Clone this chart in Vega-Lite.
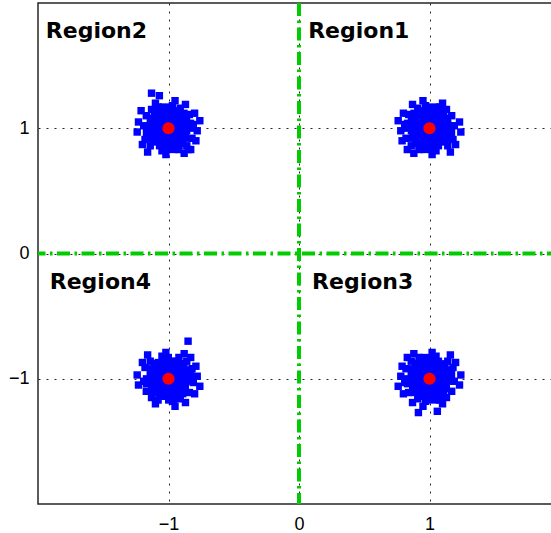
{
  "$schema": "https://vega.github.io/schema/vega-lite/v6.json",
  "width": 522,
  "height": 501,
  "autosize": {"type": "none"},
  "padding": {"left": 38, "top": 3, "right": 0, "bottom": 29},
  "background": "white",
  "config": {
    "view": {"stroke": "#262626", "strokeWidth": 1.5},
    "axis": {
      "labelFont": "Liberation Sans",
      "labelFontSize": 18,
      "labelColor": "#000000",
      "ticks": false,
      "domain": false,
      "grid": true,
      "gridColor": "#222222",
      "gridOpacity": 1,
      "gridWidth": 1,
      "gridDash": [2, 6],
      "title": null
    }
  },
  "datasets": {
    "core": [
      {"x": -1, "y": 1}, {"x": -0.94, "y": 1}, {"x": -1.06, "y": 1}, {"x": -1, "y": 1.06}, {"x": -1, "y": 0.94},
      {"x": -0.94, "y": 1.06}, {"x": -1.06, "y": 1.06}, {"x": -0.94, "y": 0.94}, {"x": -1.06, "y": 0.94},
      {"x": -0.88, "y": 1}, {"x": -1.12, "y": 1.01}, {"x": -0.99, "y": 1.12}, {"x": -1, "y": 0.88},
      {"x": -0.88, "y": 1.05}, {"x": -0.89, "y": 0.94}, {"x": -1.12, "y": 1.06}, {"x": -1.11, "y": 0.94},
      {"x": -0.95, "y": 1.12}, {"x": -1.06, "y": 1.11}, {"x": -0.94, "y": 0.88}, {"x": -1.05, "y": 0.88},
      {"x": -0.9, "y": 1.1}, {"x": -1.09, "y": 1.1}, {"x": -0.91, "y": 0.9}, {"x": -1.1, "y": 0.91},
      {"x": -0.85, "y": 1.02}, {"x": -1.15, "y": 0.98}, {"x": -0.98, "y": 0.85}, {"x": -1.02, "y": 1.15},

      {"x": 1, "y": 1}, {"x": 0.94, "y": 1}, {"x": 1.06, "y": 1}, {"x": 1, "y": 1.06}, {"x": 1, "y": 0.94},
      {"x": 0.94, "y": 1.06}, {"x": 1.06, "y": 1.06}, {"x": 0.94, "y": 0.94}, {"x": 1.06, "y": 0.94},
      {"x": 0.88, "y": 1}, {"x": 1.12, "y": 1.01}, {"x": 0.99, "y": 1.12}, {"x": 1, "y": 0.88},
      {"x": 0.88, "y": 1.05}, {"x": 0.89, "y": 0.94}, {"x": 1.12, "y": 1.06}, {"x": 1.11, "y": 0.94},
      {"x": 0.95, "y": 1.12}, {"x": 1.06, "y": 1.11}, {"x": 0.94, "y": 0.88}, {"x": 1.05, "y": 0.88},
      {"x": 0.9, "y": 1.1}, {"x": 1.09, "y": 1.1}, {"x": 0.91, "y": 0.9}, {"x": 1.1, "y": 0.91},
      {"x": 0.85, "y": 1.02}, {"x": 1.15, "y": 0.98}, {"x": 0.98, "y": 0.85}, {"x": 1.02, "y": 1.15},

      {"x": -1, "y": -1}, {"x": -0.94, "y": -1}, {"x": -1.06, "y": -1}, {"x": -1, "y": -0.94}, {"x": -1, "y": -1.06},
      {"x": -0.94, "y": -0.94}, {"x": -1.06, "y": -0.94}, {"x": -0.94, "y": -1.06}, {"x": -1.06, "y": -1.06},
      {"x": -0.88, "y": -1}, {"x": -1.12, "y": -0.99}, {"x": -0.99, "y": -0.88}, {"x": -1, "y": -1.12},
      {"x": -0.88, "y": -0.95}, {"x": -0.89, "y": -1.06}, {"x": -1.12, "y": -0.94}, {"x": -1.11, "y": -1.06},
      {"x": -0.95, "y": -0.88}, {"x": -1.06, "y": -0.89}, {"x": -0.94, "y": -1.12}, {"x": -1.05, "y": -1.12},
      {"x": -0.9, "y": -0.9}, {"x": -1.09, "y": -0.9}, {"x": -0.91, "y": -1.1}, {"x": -1.1, "y": -1.09},
      {"x": -0.85, "y": -0.98}, {"x": -1.15, "y": -1.02}, {"x": -0.98, "y": -1.15}, {"x": -1.02, "y": -0.85},

      {"x": 1, "y": -1}, {"x": 1.06, "y": -1}, {"x": 0.94, "y": -1}, {"x": 1, "y": -0.94}, {"x": 1, "y": -1.06},
      {"x": 1.06, "y": -0.94}, {"x": 0.94, "y": -0.94}, {"x": 1.06, "y": -1.06}, {"x": 0.94, "y": -1.06},
      {"x": 1.12, "y": -1}, {"x": 0.88, "y": -0.99}, {"x": 1.01, "y": -0.88}, {"x": 1, "y": -1.12},
      {"x": 1.12, "y": -0.95}, {"x": 1.11, "y": -1.06}, {"x": 0.88, "y": -0.94}, {"x": 0.89, "y": -1.06},
      {"x": 1.05, "y": -0.88}, {"x": 0.94, "y": -0.89}, {"x": 1.06, "y": -1.12}, {"x": 0.95, "y": -1.12},
      {"x": 1.1, "y": -0.9}, {"x": 0.91, "y": -0.9}, {"x": 1.09, "y": -1.1}, {"x": 0.9, "y": -1.09},
      {"x": 1.15, "y": -0.98}, {"x": 0.85, "y": -1.02}, {"x": 1.02, "y": -1.15}, {"x": 0.98, "y": -0.85}
    ],
    "fringe": [
      {"x": -0.81, "y": 1.03}, {"x": -0.82, "y": 0.92}, {"x": -0.84, "y": 1.11}, {"x": -1.19, "y": 1.02},
      {"x": -1.18, "y": 0.91}, {"x": -1.17, "y": 1.1}, {"x": -0.97, "y": 1.18}, {"x": -1.08, "y": 1.17},
      {"x": -0.91, "y": 1.16}, {"x": -0.92, "y": 0.83}, {"x": -1.05, "y": 0.82}, {"x": -0.86, "y": 0.86},
      {"x": -1.14, "y": 0.86}, {"x": -1.13, "y": 1.15}, {"x": -0.78, "y": 0.98}, {"x": -1.23, "y": 1.05},
      {"x": -0.8, "y": 1.12}, {"x": -0.87, "y": 1.19}, {"x": -1.02, "y": 0.79}, {"x": -1.2, "y": 0.87},
      {"x": -0.83, "y": 0.83}, {"x": -1.1, "y": 1.2}, {"x": -0.76, "y": 1.06}, {"x": -1.16, "y": 0.81},
      {"x": -0.95, "y": 1.22}, {"x": -0.88, "y": 0.8}, {"x": -1.24, "y": 0.97}, {"x": -0.79, "y": 0.9},
      {"x": -1.13, "y": 1.28}, {"x": -1.07, "y": 1.26}, {"x": -1.21, "y": 1.14}, {"x": -0.85, "y": 0.83},

      {"x": 0.81, "y": 1.03}, {"x": 0.82, "y": 0.92}, {"x": 0.84, "y": 1.11}, {"x": 1.19, "y": 1.02},
      {"x": 1.18, "y": 0.91}, {"x": 1.17, "y": 1.1}, {"x": 0.97, "y": 1.18}, {"x": 1.08, "y": 1.17},
      {"x": 0.91, "y": 1.16}, {"x": 0.92, "y": 0.83}, {"x": 1.05, "y": 0.82}, {"x": 0.86, "y": 0.86},
      {"x": 1.14, "y": 0.86}, {"x": 1.13, "y": 1.15}, {"x": 0.78, "y": 0.98}, {"x": 1.23, "y": 1.05},
      {"x": 0.8, "y": 1.12}, {"x": 0.87, "y": 1.19}, {"x": 1.02, "y": 0.79}, {"x": 1.2, "y": 0.87},
      {"x": 0.83, "y": 0.83}, {"x": 1.1, "y": 1.2}, {"x": 0.76, "y": 1.06}, {"x": 1.16, "y": 0.81},
      {"x": 0.95, "y": 1.22}, {"x": 0.88, "y": 0.8}, {"x": 1.24, "y": 0.97}, {"x": 0.79, "y": 0.9},

      {"x": -0.81, "y": -1.03}, {"x": -0.82, "y": -0.92}, {"x": -0.84, "y": -1.11}, {"x": -1.19, "y": -1.02},
      {"x": -1.18, "y": -0.91}, {"x": -1.17, "y": -1.1}, {"x": -0.97, "y": -1.18}, {"x": -1.08, "y": -1.17},
      {"x": -0.91, "y": -1.16}, {"x": -0.92, "y": -0.83}, {"x": -1.05, "y": -0.82}, {"x": -0.86, "y": -0.86},
      {"x": -1.14, "y": -0.86}, {"x": -1.13, "y": -1.15}, {"x": -0.78, "y": -0.98}, {"x": -1.23, "y": -1.05},
      {"x": -0.8, "y": -1.12}, {"x": -0.87, "y": -1.19}, {"x": -1.02, "y": -0.79}, {"x": -1.2, "y": -0.87},
      {"x": -0.83, "y": -0.83}, {"x": -1.1, "y": -1.2}, {"x": -0.76, "y": -1.06}, {"x": -1.16, "y": -0.81},
      {"x": -0.95, "y": -1.22}, {"x": -0.88, "y": -0.8}, {"x": -1.24, "y": -0.97}, {"x": -0.79, "y": -0.9},
      {"x": -0.85, "y": -0.7},

      {"x": 0.81, "y": -1.03}, {"x": 0.82, "y": -0.92}, {"x": 0.84, "y": -1.11}, {"x": 1.19, "y": -1.02},
      {"x": 1.18, "y": -0.91}, {"x": 1.17, "y": -1.1}, {"x": 0.97, "y": -1.18}, {"x": 1.08, "y": -1.17},
      {"x": 0.91, "y": -1.16}, {"x": 0.92, "y": -0.83}, {"x": 1.05, "y": -0.82}, {"x": 0.86, "y": -0.86},
      {"x": 1.14, "y": -0.86}, {"x": 1.13, "y": -1.15}, {"x": 0.78, "y": -0.98}, {"x": 1.23, "y": -1.05},
      {"x": 0.8, "y": -1.12}, {"x": 0.87, "y": -1.19}, {"x": 1.02, "y": -0.79}, {"x": 1.2, "y": -0.87},
      {"x": 0.83, "y": -0.83}, {"x": 1.1, "y": -1.2}, {"x": 0.76, "y": -1.06}, {"x": 1.16, "y": -0.81},
      {"x": 0.95, "y": -1.22}, {"x": 0.88, "y": -0.8}, {"x": 1.24, "y": -0.97}, {"x": 0.79, "y": -0.9},
      {"x": 0.915, "y": -1.27}, {"x": 1.06, "y": -1.26}
    ],
    "centers": [
      {"x": 1, "y": 1}, {"x": -1, "y": 1}, {"x": 1, "y": -1}, {"x": -1, "y": -1}
    ],
    "labels": [
      {"x": -1.94, "y": 1.78, "label": "Region2"},
      {"x": 0.07, "y": 1.78, "label": "Region1"},
      {"x": -1.91, "y": -0.23, "label": "Region4"},
      {"x": 0.1, "y": -0.23, "label": "Region3"}
    ],
    "vline": [{"x": 0}],
    "hline": [{"y": 0}]
  },
  "layer": [
    {
      "data": {"name": "fringe"},
      "mark": {"type": "square", "size": 55, "color": "#0000ff", "opacity": 1},
      "encoding": {
        "x": {"field": "x", "type": "quantitative", "scale": {"domain": [-2, 2], "nice": false, "zero": false},
              "axis": {"values": [-1, 0, 1], "labelPadding": 11, "format": "d"}},
        "y": {"field": "y", "type": "quantitative", "scale": {"domain": [-2, 2], "nice": false, "zero": false},
              "axis": {"values": [-1, 0, 1], "labelPadding": 9, "format": "d"}}
      }
    },
    {
      "data": {"name": "core"},
      "mark": {"type": "square", "size": 150, "color": "#0000ff", "opacity": 1},
      "encoding": {
        "x": {"field": "x", "type": "quantitative"},
        "y": {"field": "y", "type": "quantitative"}
      }
    },
    {
      "data": {"name": "vline"},
      "mark": {"type": "rule", "color": "#00cc00", "strokeWidth": 4, "strokeDash": [13, 4.5, 2.5, 4.5]},
      "encoding": {"x": {"field": "x", "type": "quantitative"}}
    },
    {
      "data": {"name": "hline"},
      "mark": {"type": "rule", "color": "#00cc00", "strokeWidth": 4, "strokeDash": [13, 4.5, 2.5, 4.5]},
      "encoding": {"y": {"field": "y", "type": "quantitative"}}
    },
    {
      "data": {"name": "centers"},
      "mark": {"type": "circle", "size": 150, "color": "#ff0000", "opacity": 1},
      "encoding": {
        "x": {"field": "x", "type": "quantitative"},
        "y": {"field": "y", "type": "quantitative"}
      }
    },
    {
      "data": {"name": "labels"},
      "mark": {"type": "text", "font": "DejaVu Sans", "fontWeight": "bold", "fontSize": 22, "align": "left", "baseline": "middle", "color": "#000000"},
      "encoding": {
        "x": {"field": "x", "type": "quantitative"},
        "y": {"field": "y", "type": "quantitative"},
        "text": {"field": "label"}
      }
    }
  ]
}
